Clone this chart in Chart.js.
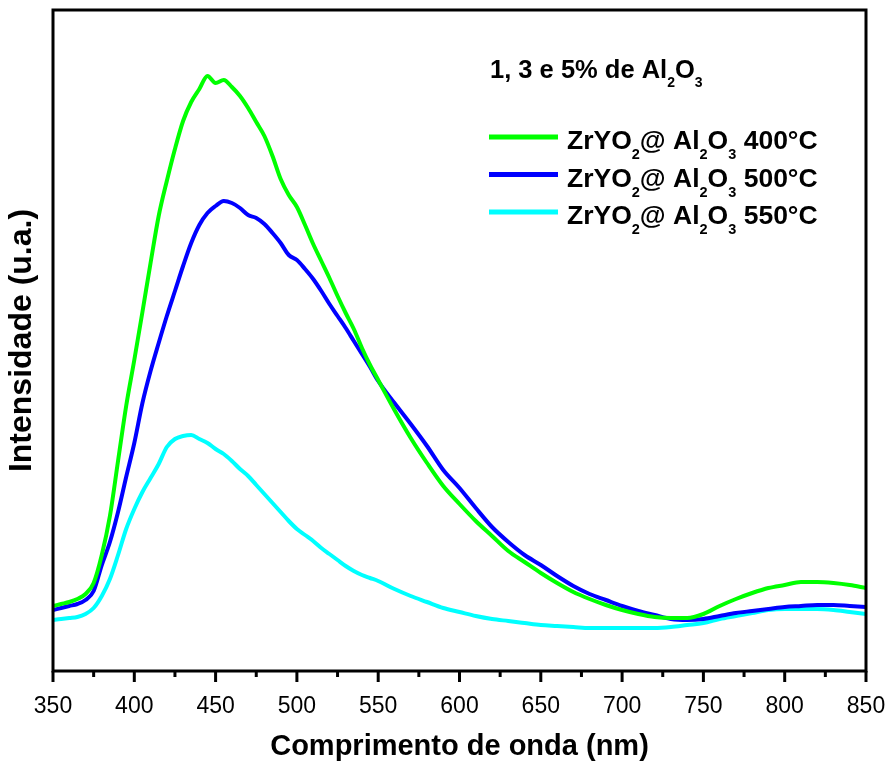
<!DOCTYPE html>
<html>
<head>
<meta charset="utf-8">
<script src="https://cdn.jsdelivr.net/npm/chart.js@4.4.0/dist/chart.umd.min.js"></script>
<style>
  html, body { margin: 0; padding: 0; background: #fff; }
  #wrap { width: 888px; height: 765px; position: relative; }
</style>
</head>
<body>
<div id="wrap"><canvas id="espectro"></canvas></div>
<script>
// DADOS
const comprimentos = [
  350,355,360,365,370,375,380,385,390,395,400,405,410,415,420,425,430,435,440,445,
  450,455,460,465,470,475,480,485,490,495,500,505,510,515,520,525,530,535,540,545,550,
  560,570,580,590,600,610,620,630,640,650,660,670,680,690,700,710,720,730,740,750,
  760,770,780,790,800,810,820,830,840,850
];

const int400 = [
  65,67,69,72,77,88,116,155,210,265,311,359,408,455,490,522,550,569,582,595,
  588,591,584,575,563,549,535,515,492,476,464,446,427,410,393,375,358,342,323,306,291,
  261,233,208,185,167,150,135,120,109,98,88,79,72,66,61,57,54,53,53,57,
  65,72,78,83,86,89,89,88,86,83
];

const int500 = [
  61,63,65,67,71,80,106,129,159,194,228,268,300,328,355,380,405,428,446,458,
  465,470,468,463,456,453,447,438,428,416,411,402,392,380,367,355,343,330,317,304,290,
  268,247,225,201,183,163,144,129,116,106,95,85,77,71,65,60,56,52,51,52,
  55,58,60,62,64,65,66,66,65,64
];

const int550 = [
  51,52,53,54,57,63,75,92,116,142,162,179,193,207,224,232,235,236,232,228,
  222,217,210,202,195,186,177,168,159,150,142,136,130,123,117,111,105,100,96,93,90,
  82,75,69,63,59,55,52,50,48,46,45,44,43,43,43,43,43,44,46,48,
  52,55,58,61,62,62,62,61,59,57
];

const xTicks = [350, 400, 450, 500, 550, 600, 650, 700, 750, 800, 850];

const series = [
  { temp: "400°C", cor: "#00ff00", valores: int400 },
  { temp: "500°C", cor: "#0000ff", valores: int500 },
  { temp: "550°C", cor: "#00ffff", valores: int550 }
];

const FONTE = '"Liberation Sans", Arial, sans-serif';

// texto com subscritos
function drawRich(ctx, parts, x, y, size, subSize, subDy) {
  let cx = x;
  parts.forEach(([txt, sub]) => {
    ctx.font = `bold ${sub ? subSize : size}px ${FONTE}`;
    ctx.fillText(txt, cx, sub ? y + subDy : y);
    cx += ctx.measureText(txt).width;
  });
}

const moldura = {
  id: "moldura",
  afterDraw(chart) {
    const { ctx, chartArea: a, scales: { x } } = chart;
    ctx.save();
    ctx.strokeStyle = "#000";
    ctx.lineWidth = 3;
    ctx.strokeRect(a.left, a.top, a.right - a.left, a.bottom - a.top);

    // ticks maiores e menores
    for (let v = 350; v <= 850; v += 25) {
      const px = x.getPixelForValue(v);
      const len = v % 50 === 0 ? 11 : 6;
      ctx.beginPath();
      ctx.moveTo(px, a.bottom);
      ctx.lineTo(px, a.bottom + len);
      ctx.stroke();
    }

    // legenda
    ctx.fillStyle = "#000";
    ctx.textBaseline = "alphabetic";
    ctx.textAlign = "left";
    drawRich(ctx, [["1, 3 e 5% de Al"], ["2", 1], ["O"], ["3", 1]], 490, 78, 25.5, 14, 9);

    series.forEach((s, i) => {
      const y = 137 + i * 37.5;
      ctx.strokeStyle = s.cor;
      ctx.lineWidth = 5;
      ctx.beginPath();
      ctx.moveTo(489, y);
      ctx.lineTo(558, y);
      ctx.stroke();
      drawRich(ctx, [["ZrYO"], ["2", 1], ["@ Al"], ["2", 1], ["O"], ["3", 1], [" " + s.temp]],
        567, y + 12, 26.5, 14.5, 10);
    });
    ctx.restore();
  }
};

const ctx = document.getElementById("espectro");

new Chart(ctx, {
  type: "line",
  data: {
    datasets: series.map(s => ({
      label: "ZrYO2@ Al2O3 " + s.temp,
      data: comprimentos.map((c, i) => ({ x: c, y: s.valores[i] })),
      borderColor: s.cor,
      borderWidth: 4,
      pointRadius: 0,
      fill: false,
      cubicInterpolationMode: "monotone"
    }))
  },
  options: {
    responsive: true,
    maintainAspectRatio: false,
    animation: false,
    layout: { padding: { top: 10, right: 22, left: 0, bottom: 0 } },
    plugins: {
      legend: { display: false },
      tooltip: { enabled: false }
    },
    scales: {
      x: {
        type: "linear",
        min: 350,
        max: 850,
        afterBuildTicks: (s) => { s.ticks = xTicks.map(v => ({ value: v })); },
        afterFit: (s) => {
          s.height = 94;
          s.paddingLeft = 0;
          s.paddingRight = 0;
        },
        grid: { display: false, drawTicks: false },
        border: { display: false },
        ticks: {
          color: "#000",
          padding: 22,
          maxRotation: 0,
          font: { family: FONTE, size: 23 }
        },
        title: {
          display: true,
          text: "Comprimento de onda (nm)",
          color: "#000",
          padding: { top: 0, bottom: 1 },
          font: { family: FONTE, size: 29, weight: "bold" }
        }
      },
      y: {
        min: 0,
        max: 661,
        afterFit: (s) => { s.width = 53; },
        grid: { display: false, drawTicks: false },
        border: { display: false },
        ticks: { display: false },
        title: {
          display: true,
          text: "Intensidade (u.a.)",
          color: "#000",
          padding: { top: 3, bottom: 0 },
          font: { family: FONTE, size: 32, weight: "bold" }
        }
      }
    }
  },
  plugins: [moldura]
});
</script>
</body>
</html>
